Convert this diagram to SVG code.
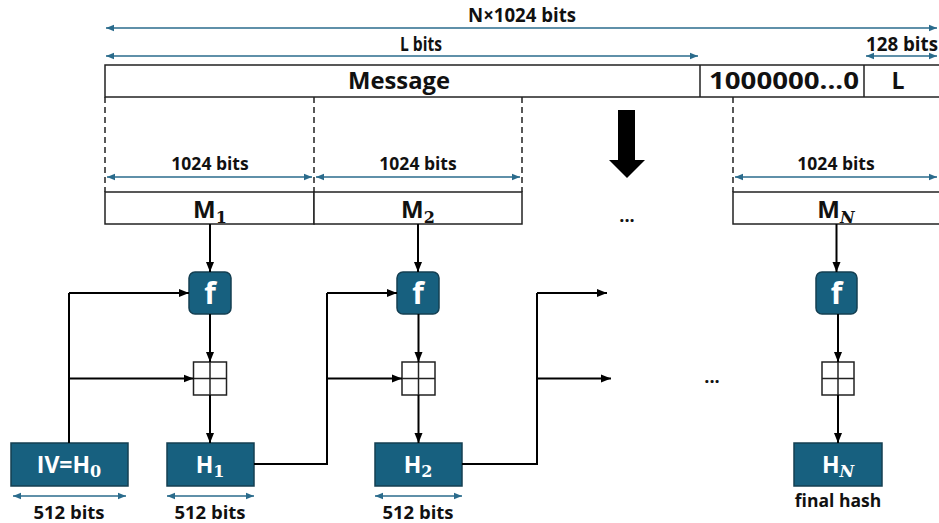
<svg xmlns="http://www.w3.org/2000/svg" width="939" height="523" viewBox="0 0 939 523">
  <style>
    .lbl { font-family: "Open Sans", "Noto Sans", "Liberation Sans", sans-serif; font-weight: bold; fill: #111; }
    .wht { font-family: "Open Sans", "Noto Sans", "Liberation Sans", sans-serif; font-weight: bold; fill: #fff; }
    .sub { font-family: "DejaVu Serif", "Liberation Serif", serif; font-weight: bold; }
    .subi { font-family: "DejaVu Serif", "Liberation Serif", serif; font-weight: bold; font-style: italic; }
    .dim { stroke: #2a6b8c; stroke-width: 1.6; fill: none; marker-start: url(#dimL); marker-end: url(#dimR); }
    .box { fill: #fff; stroke: #222; stroke-width: 1.5; }
    .dash { stroke: #222; stroke-width: 1.5; stroke-dasharray: 6 4; }
    .teal { fill: #17607f; stroke: #143f52; stroke-width: 1.5; }
    .wire { stroke: #000; stroke-width: 2; fill: none; }
    .arr { marker-end: url(#ah); }
  </style>
  <defs>
    <marker id="dimR" viewBox="0 0 10 10" refX="10" refY="5" markerWidth="5" markerHeight="5" markerUnits="strokeWidth" orient="auto">
      <path d="M0,1 L10,5 L0,9 Z" fill="#2a6b8c"/>
    </marker>
    <marker id="dimL" viewBox="0 0 10 10" refX="0" refY="5" markerWidth="5" markerHeight="5" markerUnits="strokeWidth" orient="auto">
      <path d="M10,1 L0,5 L10,9 Z" fill="#2a6b8c"/>
    </marker>
    <marker id="ah" viewBox="0 0 10 10" refX="10" refY="5" markerWidth="5" markerHeight="5" markerUnits="strokeWidth" orient="auto">
      <path d="M0,1 L10,5 L0,9 Z" fill="#000"/>
    </marker>
  </defs>

  <!-- overall length dimensions -->
  <g id="dim-total">
    <line class="dim" x1="106" y1="28" x2="937" y2="28"/>
    <text class="lbl" x="522" y="22" font-size="19" text-anchor="middle" textLength="108" lengthAdjust="spacingAndGlyphs">N×1024 bits</text>
  </g>
  <g id="dim-message">
    <line class="dim" x1="106" y1="56" x2="698" y2="56"/>
    <text class="lbl" x="421" y="51" font-size="19" text-anchor="middle" textLength="42" lengthAdjust="spacingAndGlyphs">L bits</text>
  </g>
  <g id="dim-length">
    <line class="dim" x1="866" y1="56" x2="937" y2="56"/>
    <text class="lbl" x="902" y="51" font-size="19" text-anchor="middle" textLength="72" lengthAdjust="spacingAndGlyphs">128 bits</text>
  </g>

  <!-- padded message -->
  <g id="padded-message">
    <rect class="box" x="105" y="65" width="836" height="32"/>
    <line x1="700" y1="65" x2="700" y2="97" stroke="#222" stroke-width="1.5"/>
    <line x1="864" y1="65" x2="864" y2="97" stroke="#222" stroke-width="1.5"/>
    <text class="lbl" x="399" y="89" font-size="24" text-anchor="middle" textLength="102" lengthAdjust="spacingAndGlyphs">Message</text>
    <text class="lbl" x="784" y="89" font-size="24" text-anchor="middle" textLength="150" lengthAdjust="spacingAndGlyphs">1000000...0</text>
    <text class="lbl" x="898" y="89" font-size="23" text-anchor="middle">L</text>
  </g>

  <!-- block boundaries -->
  <g id="block-guides">
    <line class="dash" x1="105" y1="97" x2="105" y2="192"/>
    <line class="dash" x1="314" y1="97" x2="314" y2="192"/>
    <line class="dash" x1="522" y1="97" x2="522" y2="192"/>
    <line class="dash" x1="733" y1="97" x2="733" y2="192"/>
  </g>

  <!-- splitting arrow -->
  <g id="split-arrow">
    <polygon points="618,110 635,110 635,160 645,160 627,178 609,160 618,160" fill="#000"/>
  </g>

  <!-- message blocks -->
  <g id="block-M1">
    <line class="dim" x1="107" y1="177" x2="312" y2="177"/>
    <text class="lbl" x="210" y="170" font-size="17.5" text-anchor="middle">1024 bits</text>
    <rect class="box" x="105" y="192" width="209" height="32"/>
    <text class="lbl" x="210" y="218" font-size="24" text-anchor="middle">M<tspan class="sub" font-size="16" dy="5">1</tspan></text>
  </g>
  <g id="block-M2">
    <line class="dim" x1="316" y1="177" x2="520" y2="177"/>
    <text class="lbl" x="418" y="170" font-size="17.5" text-anchor="middle">1024 bits</text>
    <rect class="box" x="314" y="192" width="208" height="32"/>
    <text class="lbl" x="418" y="218" font-size="24" text-anchor="middle">M<tspan class="sub" font-size="16" dy="5">2</tspan></text>
  </g>
  <g id="block-ellipsis">
    <text class="lbl" x="627" y="222" font-size="18" text-anchor="middle">...</text>
  </g>
  <g id="block-MN">
    <line class="dim" x1="735" y1="177" x2="937" y2="177"/>
    <text class="lbl" x="836" y="170" font-size="17.5" text-anchor="middle">1024 bits</text>
    <rect class="box" x="733" y="192" width="208" height="32"/>
    <text class="lbl" x="836" y="218" font-size="24" text-anchor="middle">M<tspan class="subi" font-size="16" dy="5">N</tspan></text>
  </g>

  <!-- compression functions -->
  <g id="f1">
    <rect class="teal" x="189" y="272" width="42" height="42" rx="6"/>
    <text class="wht" x="210" y="304" font-size="30" text-anchor="middle">f</text>
  </g>
  <g id="f2">
    <rect class="teal" x="397" y="272" width="42" height="42" rx="6"/>
    <text class="wht" x="418" y="304" font-size="30" text-anchor="middle">f</text>
  </g>
  <g id="fN">
    <rect class="teal" x="816" y="272" width="41" height="42" rx="6"/>
    <text class="wht" x="836.5" y="304" font-size="30" text-anchor="middle">f</text>
  </g>

  <!-- modular adders -->
  <g id="add1">
    <rect class="box" x="193.5" y="362" width="33" height="33"/>
    <line x1="210" y1="362" x2="210" y2="395" stroke="#222" stroke-width="1.5"/>
    <line x1="193.5" y1="378.5" x2="226.5" y2="378.5" stroke="#222" stroke-width="1.5"/>
  </g>
  <g id="add2">
    <rect class="box" x="402" y="362" width="33" height="33"/>
    <line x1="418.5" y1="362" x2="418.5" y2="395" stroke="#222" stroke-width="1.5"/>
    <line x1="402" y1="378.5" x2="435" y2="378.5" stroke="#222" stroke-width="1.5"/>
  </g>
  <g id="addN">
    <rect class="box" x="822" y="362" width="32" height="33"/>
    <line x1="838" y1="362" x2="838" y2="395" stroke="#222" stroke-width="1.5"/>
    <line x1="822" y1="378.5" x2="854" y2="378.5" stroke="#222" stroke-width="1.5"/>
  </g>

  <!-- chaining values -->
  <g id="H0">
    <rect class="teal" x="11" y="443" width="117" height="43"/>
    <text class="wht" x="69" y="473" font-size="23" text-anchor="middle">IV=H<tspan class="sub" font-size="16" dy="4">0</tspan></text>
    <line class="dim" x1="13" y1="496" x2="126" y2="496"/>
    <text class="lbl" x="69" y="519" font-size="18.5" text-anchor="middle">512 bits</text>
  </g>
  <g id="H1">
    <rect class="teal" x="167" y="443" width="87" height="43"/>
    <text class="wht" x="210" y="473" font-size="23" text-anchor="middle">H<tspan class="sub" font-size="16" dy="4">1</tspan></text>
    <line class="dim" x1="167" y1="496" x2="254" y2="496"/>
    <text class="lbl" x="210" y="519" font-size="18.5" text-anchor="middle">512 bits</text>
  </g>
  <g id="H2">
    <rect class="teal" x="375" y="443" width="87" height="43"/>
    <text class="wht" x="418" y="473" font-size="23" text-anchor="middle">H<tspan class="sub" font-size="16" dy="4">2</tspan></text>
    <line class="dim" x1="375" y1="496" x2="462" y2="496"/>
    <text class="lbl" x="418" y="519" font-size="18.5" text-anchor="middle">512 bits</text>
  </g>
  <g id="HN">
    <rect class="teal" x="794" y="443" width="88" height="43"/>
    <text class="wht" x="838" y="473" font-size="23" text-anchor="middle">H<tspan class="subi" font-size="16" dy="4">N</tspan></text>
    <text class="lbl" x="838" y="507" font-size="17.5" text-anchor="middle">final hash</text>
  </g>
  <g id="chain-ellipsis">
    <text class="lbl" x="712" y="383" font-size="18" text-anchor="middle">...</text>
  </g>

  <!-- connectors -->
  <g id="connectors">
    <line class="wire arr" x1="210" y1="224" x2="210" y2="272"/>
    <line class="wire arr" x1="210" y1="314" x2="210" y2="362"/>
    <line class="wire arr" x1="210" y1="395" x2="210" y2="443"/>
    <line class="wire arr" x1="418" y1="224" x2="418" y2="272"/>
    <line class="wire arr" x1="418.5" y1="314" x2="418.5" y2="362"/>
    <line class="wire arr" x1="418.5" y1="395" x2="418.5" y2="443"/>
    <line class="wire arr" x1="836.5" y1="224" x2="836.5" y2="272"/>
    <line class="wire arr" x1="838" y1="314" x2="838" y2="362"/>
    <line class="wire arr" x1="838" y1="395" x2="838" y2="443"/>

    <path class="wire" d="M69,443 V293" stroke-width="3"/>
    <path class="wire arr" d="M69,293 H189"/>
    <path class="wire arr" d="M69,378.5 H193.5"/>

    <path class="wire" d="M254,464 H327 V293"/>
    <path class="wire arr" d="M327,293 H397"/>
    <path class="wire arr" d="M327,378.5 H402"/>

    <path class="wire" d="M462,464 H537 V293"/>
    <path class="wire arr" d="M537,293 H607"/>
    <path class="wire arr" d="M537,378.5 H611"/>
  </g>
</svg>
